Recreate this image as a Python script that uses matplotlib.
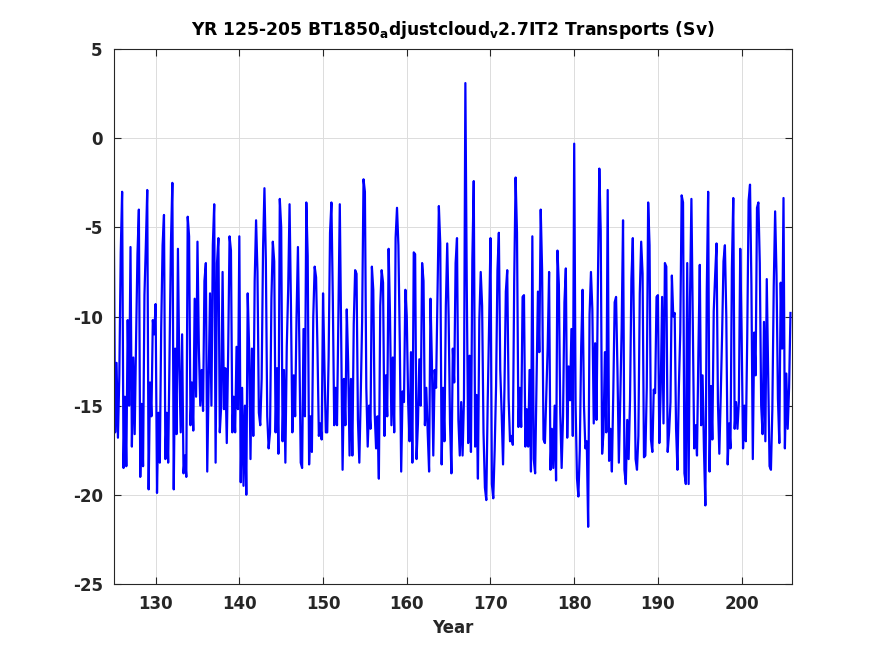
import numpy as np
import matplotlib
matplotlib.use("Agg")
import matplotlib.pyplot as plt

# bimonthly transports (Sv), one row per model year 125..205
first_year = 125
samples_per_year = 6
transport = [
    -4.5, -16.5, -12.6, -16.8, -13.3, -6.4,     # 125
    -3.0, -18.5, -14.5, -18.4, -10.2, -15.0,    # 126
    -6.1, -17.3, -12.3, -16.6, -11.3, -6.5,     # 127
    -4.0, -19.0, -14.9, -18.4, -8.8, -6.0,      # 128
    -2.9, -19.7, -13.7, -15.6, -10.2, -11.0,    # 129
    -9.3, -19.9, -15.4, -18.2, -10.7, -6.0,     # 130
    -4.3, -18.0, -15.4, -18.2, -12.0, -5.8,     # 131
    -2.5, -19.7, -11.8, -16.6, -6.2, -13.0,     # 132
    -16.5, -11.0, -18.8, -17.8, -19.0, -4.4,    # 133
    -5.5, -16.1, -13.7, -16.4, -9.0, -14.5,     # 134
    -5.8, -11.8, -15.0, -13.0, -15.3, -8.0,     # 135
    -7.0, -18.7, -13.5, -8.7, -15.0, -6.0,      # 136
    -3.7, -18.2, -7.0, -5.6, -16.5, -15.0,      # 137
    -7.5, -15.2, -12.9, -17.1, -12.0, -5.5,     # 138
    -6.3, -16.5, -14.5, -16.5, -11.7, -15.2,    # 139
    -5.5, -19.3, -14.0, -19.5, -15.0, -20.0,    # 140
    -8.7, -11.7, -18.0, -11.8, -16.7, -8.0,     # 141
    -4.6, -7.5, -15.4, -16.1, -13.5, -6.2,      # 142
    -2.8, -6.8, -15.6, -17.4, -16.5, -9.0,      # 143
    -5.8, -6.9, -16.5, -12.9, -17.7, -3.4,      # 144
    -5.0, -17.0, -13.0, -18.2, -11.7, -8.5,     # 145
    -3.7, -9.4, -16.5, -13.3, -15.6, -10.0,     # 146
    -6.1, -11.5, -18.2, -18.5, -10.7, -15.6,    # 147
    -3.6, -6.6, -18.3, -15.6, -17.6, -10.0,     # 148
    -7.2, -7.8, -11.8, -16.7, -16.0, -16.9,     # 149
    -8.7, -12.8, -16.5, -16.5, -12.3, -5.3,     # 150
    -3.6, -9.0, -16.1, -14.0, -16.1, -10.0,     # 151
    -3.7, -11.0, -18.6, -13.5, -16.1, -9.6,     # 152
    -12.6, -17.8, -13.5, -17.8, -10.4, -7.4,    # 153
    -7.6, -15.8, -18.2, -14.5, -10.3, -2.3,     # 154
    -3.0, -14.0, -17.3, -15.0, -16.3, -7.2,     # 155
    -8.5, -15.4, -17.4, -15.6, -19.1, -9.4,     # 156
    -7.4, -8.1, -16.7, -13.3, -15.6, -6.2,      # 157
    -10.0, -16.1, -12.3, -16.5, -5.6, -3.9,     # 158
    -6.0, -11.5, -18.7, -14.2, -14.8, -8.5,     # 159
    -10.0, -14.8, -17.0, -12.0, -18.2, -6.4,    # 160
    -6.5, -18.0, -16.0, -12.4, -15.0, -7.0,     # 161
    -8.0, -16.1, -14.0, -16.5, -18.7, -9.0,     # 162
    -12.5, -17.8, -13.0, -14.0, -9.0, -3.8,     # 163
    -5.9, -18.3, -14.0, -17.0, -9.4, -5.9,      # 164
    -10.0, -16.0, -18.8, -11.8, -13.7, -7.0,    # 165
    -5.6, -15.8, -17.8, -14.8, -17.8, -14.6,    # 166
    3.1, -8.3, -17.1, -12.2, -17.6, -6.8,       # 167
    -2.4, -17.3, -14.4, -19.1, -10.2, -7.5,     # 168
    -9.4, -16.5, -19.6, -20.3, -14.8, -10.5,    # 169
    -5.6, -19.4, -20.2, -17.5, -13.9, -7.4,     # 170
    -5.3, -13.0, -15.4, -18.3, -14.1, -8.6,     # 171
    -7.4, -14.6, -17.0, -16.7, -17.2, -8.0,     # 172
    -2.2, -5.3, -16.2, -14.0, -16.2, -8.9,      # 173
    -8.8, -17.3, -15.2, -17.3, -13.0, -18.7,    # 174
    -5.5, -18.0, -18.8, -13.5, -8.6, -12.0,     # 175
    -4.0, -7.4, -16.9, -17.1, -14.3, -11.7,     # 176
    -7.5, -18.6, -16.3, -18.5, -15.0, -19.2,    # 177
    -6.3, -8.2, -15.4, -18.5, -15.6, -9.2,      # 178
    -7.3, -16.8, -12.8, -14.7, -10.7, -16.7,    # 179
    -0.3, -15.0, -19.1, -20.1, -17.5, -11.7,    # 180
    -8.5, -15.0, -17.4, -17.0, -21.8, -9.9,     # 181
    -7.5, -9.6, -16.0, -11.5, -15.8, -8.0,      # 182
    -1.7, -5.2, -17.7, -16.5, -12.0, -16.5,     # 183
    -2.9, -18.1, -16.3, -18.7, -14.3, -9.2,     # 184
    -8.9, -13.0, -18.2, -14.7, -10.7, -4.6,     # 185
    -18.6, -19.4, -15.8, -18.0, -14.7, -7.9,    # 186
    -5.6, -12.0, -18.0, -18.6, -16.7, -8.7,     # 187
    -5.8, -7.6, -17.9, -17.8, -14.0, -3.6,      # 188
    -6.0, -16.9, -17.6, -14.1, -14.3, -8.9,     # 189
    -8.8, -17.1, -14.1, -8.9, -16.0, -7.0,      # 190
    -7.2, -17.6, -16.5, -14.8, -7.7, -10.0,     # 191
    -9.8, -16.3, -18.6, -14.0, -10.9, -3.2,     # 192
    -3.6, -18.8, -19.4, -7.0, -19.4, -9.0,      # 193
    -3.4, -10.3, -17.4, -16.1, -17.8, -12.0,    # 194
    -7.1, -16.1, -13.3, -17.5, -20.6, -8.6,     # 195
    -3.0, -18.7, -13.9, -16.9, -9.7, -7.7,      # 196
    -5.9, -14.8, -17.7, -14.5, -11.0, -6.9,     # 197
    -6.0, -10.0, -18.3, -16.0, -17.4, -7.3,     # 198
    -3.35, -16.3, -14.8, -16.3, -14.8, -6.2,    # 199
    -11.1, -17.4, -15.0, -17.0, -11.2, -3.5,    # 200
    -2.6, -8.2, -18.0, -10.9, -13.3, -3.9,      # 201
    -3.6, -7.0, -15.0, -16.6, -10.3, -17.0,     # 202
    -7.9, -13.1, -18.4, -18.6, -15.2, -8.3,     # 203
    -4.1, -7.7, -14.6, -17.1, -8.1, -11.8,      # 204
    -3.35, -17.4, -13.2, -16.3, -14.0, -9.8,    # 205
]

x_ticks = [130, 140, 150, 160, 170, 180, 190, 200]
y_ticks = [-25, -20, -15, -10, -5, 0, 5]

time = first_year + np.arange(len(transport)) / samples_per_year

plt.rcParams['font.family'] = ['DejaVu Sans']
plt.rcParams['font.weight'] = 'bold'
plt.rcParams['axes.unicode_minus'] = False

fig = plt.figure(figsize=(8.75, 6.56), dpi=100)
ax = fig.add_axes([0.13, 0.11, 0.775, 0.815])

ax.plot(time, transport, color='#0000ff', linewidth=1.6)

ax.set_xlim(125, 206)
ax.set_ylim(-25, 5)
ax.set_xticks(x_ticks)
ax.set_yticks(y_ticks)
ax.grid(True, color='#dcdcdc', linewidth=0.7)
ax.set_axisbelow(True)

dark = '#262626'
for s in ax.spines.values():
    s.set_color(dark)
    s.set_linewidth(0.8)
ax.tick_params(direction='in', length=5, width=0.8, colors=dark,
               labelsize=12, top=True, right=True, pad=8)
for lab in ax.get_xticklabels() + ax.get_yticklabels():
    lab.set_fontweight('bold')

ax.set_xlabel('Year', fontsize=12, fontweight='bold', color=dark, labelpad=4)
ax.set_title(r'YR 125-205 BT1850$_\mathbf{a}$djustcloud$_\mathbf{v}$2.7IT2 Transports (Sv)',
             fontsize=12.3, fontweight='bold', pad=10)

fig.savefig('out.png', dpi=100)
